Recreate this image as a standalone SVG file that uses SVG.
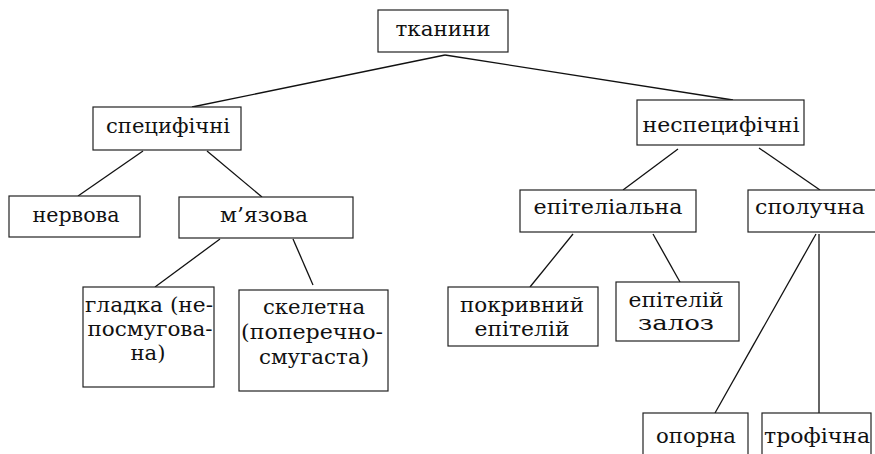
<svg xmlns="http://www.w3.org/2000/svg" width="875" height="454" viewBox="0 0 875 454">
<style>
.box{fill:#fff;stroke:#222;stroke-width:1.2}
.t{font-family:"DejaVu Serif","Liberation Serif",serif;font-size:21px;fill:#111;text-anchor:middle}
.e{stroke:#111;stroke-width:1.3;fill:none}
</style>
<rect width="875" height="454" fill="#fff"/>
<g id="connectors">
<line class="e" x1="445" y1="55" x2="192" y2="107"/>
<line class="e" x1="445" y1="55" x2="733" y2="100"/>
<line class="e" x1="143" y1="151" x2="78" y2="196"/>
<line class="e" x1="207" y1="151" x2="262" y2="197"/>
<line class="e" x1="220" y1="239" x2="155" y2="287"/>
<line class="e" x1="293" y1="239" x2="313" y2="285"/>
<line class="e" x1="678" y1="149" x2="623" y2="190"/>
<line class="e" x1="759" y1="148" x2="820" y2="190"/>
<line class="e" x1="573" y1="234" x2="530" y2="287"/>
<line class="e" x1="653" y1="234" x2="680" y2="282"/>
<line class="e" x1="816" y1="234" x2="715" y2="413"/>
<line class="e" x1="819" y1="234" x2="819" y2="413"/>
</g>
<g id="tkanyny"><rect class="box" x="378" y="10" width="130" height="42"/><text class="t" x="443" y="36" textLength="95" lengthAdjust="spacingAndGlyphs">тканини</text></g>
<g id="spetsyfichni"><rect class="box" x="93" y="107" width="148" height="43"/><text class="t" x="168" y="133" textLength="124" lengthAdjust="spacingAndGlyphs">специфічні</text></g>
<g id="nespetsyfichni"><rect class="box" x="637" y="100" width="167" height="45"/><text class="t" x="721" y="132" textLength="157" lengthAdjust="spacingAndGlyphs">неспецифічні</text></g>
<g id="nervova"><rect class="box" x="9" y="196" width="131" height="41"/><text class="t" x="76" y="222" textLength="87" lengthAdjust="spacingAndGlyphs">нервова</text></g>
<g id="myazova"><rect class="box" x="179" y="197" width="174" height="41"/><text class="t" x="264" y="222" textLength="88" lengthAdjust="spacingAndGlyphs">м’язова</text></g>
<g id="epitelialna"><rect class="box" x="520" y="190" width="176" height="42"/><text class="t" x="608" y="214" textLength="149" lengthAdjust="spacingAndGlyphs">епітеліальна</text></g>
<g id="spoluchna"><rect class="box" x="748" y="190" width="140" height="42"/><text class="t" x="810" y="214" textLength="110" lengthAdjust="spacingAndGlyphs">сполучна</text></g>
<g id="gladka"><rect class="box" x="83" y="287" width="131" height="100"/>
<text class="t" x="149" y="312" textLength="128" lengthAdjust="spacingAndGlyphs">гладка (не-</text>
<text class="t" x="150" y="336" textLength="125" lengthAdjust="spacingAndGlyphs">посмугова-</text>
<text class="t" x="148" y="360" textLength="35" lengthAdjust="spacingAndGlyphs">на)</text></g>
<g id="skeletna"><rect class="box" x="239" y="290" width="149" height="101"/>
<text class="t" x="314" y="314" textLength="102" lengthAdjust="spacingAndGlyphs">скелетна</text>
<text class="t" x="312" y="339" textLength="142" lengthAdjust="spacingAndGlyphs">(поперечно-</text>
<text class="t" x="314" y="364" textLength="110" lengthAdjust="spacingAndGlyphs">смугаста)</text></g>
<g id="pokryvnyi"><rect class="box" x="448" y="287" width="150" height="59"/>
<text class="t" x="522" y="312" textLength="124" lengthAdjust="spacingAndGlyphs">покривний</text>
<text class="t" x="522" y="336" textLength="95" lengthAdjust="spacingAndGlyphs">епітелій</text></g>
<g id="epitelii-zaloz"><rect class="box" x="616" y="282" width="123" height="59"/>
<text class="t" x="676" y="307" textLength="95" lengthAdjust="spacingAndGlyphs">епітелій</text>
<text class="t" x="676" y="330" textLength="76" lengthAdjust="spacingAndGlyphs">залоз</text></g>
<g id="oporna"><rect class="box" x="643" y="413" width="105" height="50"/><text class="t" x="696" y="443" textLength="80" lengthAdjust="spacingAndGlyphs">опорна</text></g>
<g id="trofichna"><rect class="box" x="762" y="413" width="109" height="50"/><text class="t" x="817" y="443" textLength="106" lengthAdjust="spacingAndGlyphs">трофічна</text></g>
</svg>
